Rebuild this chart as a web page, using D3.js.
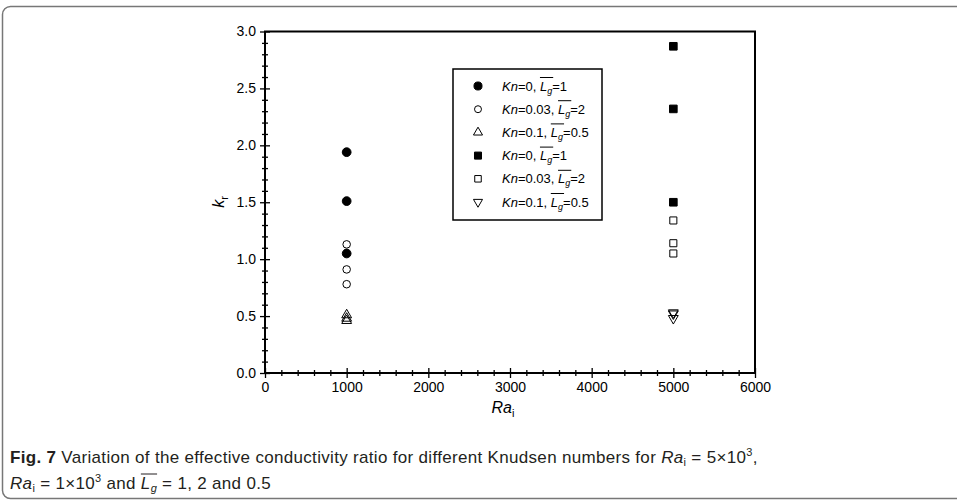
<!DOCTYPE html>
<html>
<head>
<meta charset="utf-8">
<script src="https://cdn.jsdelivr.net/npm/d3@7"></script>
<style>
  html, body { margin: 0; padding: 0; background: #fff; }
  svg { display: block; }
  .cap { font-family: "Liberation Sans Narrow", "Liberation Sans", sans-serif; font-size: 17px; fill: #231f20; }
</style>
</head>
<body>
<svg id="chart" width="957" height="501"></svg>
<script>
// data
const xTicks = [0, 1000, 2000, 3000, 4000, 5000, 6000];
const yTicks = [0.0, 0.5, 1.0, 1.5, 2.0, 2.5, 3.0];

const raLow = 1000, raHigh = 5000;
const kn0Low   = [1.94, 1.51, 1.05];
const kn003Low = [1.13, 0.91, 0.78];
const kn01Low  = [0.51, 0.48, 0.46];
const kn0High   = [2.87, 2.32, 1.50];
const kn003High = [1.34, 1.14, 1.05];
const kn01High  = [0.53, 0.52, 0.48];

const seriesNames = [
  { kn: "0", lg: "1" }, { kn: "0.03", lg: "2" }, { kn: "0.1", lg: "0.5" },
  { kn: "0", lg: "1" }, { kn: "0.03", lg: "2" }, { kn: "0.1", lg: "0.5" }
];

const series = [
  { ra: raLow,  vals: kn0Low,   sym: d3.symbolCircle,   fill: "#000", size: 60 },
  { ra: raLow,  vals: kn003Low, sym: d3.symbolCircle,   fill: "none", size: 45 },
  { ra: raLow,  vals: kn01Low,  sym: d3.symbolTriangle, fill: "none", size: 42 },
  { ra: raHigh, vals: kn0High,  sym: d3.symbolSquare,   fill: "#000", size: 58 },
  { ra: raHigh, vals: kn003High,sym: d3.symbolSquare,   fill: "none", size: 50 },
  { ra: raHigh, vals: kn01High, sym: d3.symbolTriangle, fill: "none", size: 42, flip: true }
];

const svg = d3.select("#chart");
const font = "'Liberation Sans', Arial, sans-serif";

// outer figure frame
svg.append("rect")
  .attr("x", 2.5).attr("y", 6.5).attr("width", 975).attr("height", 492)
  .attr("rx", 8).attr("fill", "none").attr("stroke", "#777").attr("stroke-width", 1.5);

const x = d3.scaleLinear().domain([0, 6000]).range([265, 755]);
const y = d3.scaleLinear().domain([0, 3]).range([373, 31.5]);

// plot frame
svg.append("rect")
  .attr("x", x(0)).attr("y", y(3))
  .attr("width", x(6000) - x(0)).attr("height", y(0) - y(3))
  .attr("fill", "none").attr("stroke", "#000").attr("stroke-width", 2);

// y axis
const yMinor = d3.range(0, 31).map(d => d / 10).filter(d => Math.round(d * 10) % 5 !== 0);
const gyMinor = svg.append("g").attr("transform", `translate(${x(0)},0)`)
  .call(d3.axisLeft(y).tickValues(yMinor).tickSize(3).tickFormat(""));
gyMinor.selectAll(".tick line").attr("x1", 3);
const gy = svg.append("g").attr("transform", `translate(${x(0)},0)`)
  .call(d3.axisLeft(y).tickValues(yTicks).tickSize(5).tickPadding(4).tickFormat(d3.format(".1f")));
gy.selectAll(".tick line").attr("x1", 5);
gy.selectAll("text").attr("font-size", 14).attr("font-family", font).attr("fill", "#000");

// x axis
const xMinor = d3.range(0, 6001, 200).filter(d => d % 1000 !== 0);
const gxMinor = svg.append("g").attr("transform", `translate(0,${y(0)})`)
  .call(d3.axisBottom(x).tickValues(xMinor).tickSize(3).tickFormat(""));
gxMinor.selectAll(".tick line").attr("y1", -3);
const gx = svg.append("g").attr("transform", `translate(0,${y(0)})`)
  .call(d3.axisBottom(x).tickValues(xTicks).tickSize(5).tickPadding(4).tickFormat(d3.format("d")));
gx.selectAll(".tick line").attr("y1", -5);
gx.selectAll("text").attr("font-size", 14).attr("font-family", font).attr("fill", "#000");

svg.selectAll(".domain").remove();
svg.selectAll(".tick line").attr("stroke", "#000").attr("stroke-width", 1.3);

// axis titles
const yl = svg.append("text").attr("font-family", font).attr("font-size", 16)
  .attr("transform", "translate(224,202) rotate(-90)").attr("text-anchor", "middle");
yl.append("tspan").attr("font-style", "italic").text("k");
yl.append("tspan").attr("font-size", 11).attr("dy", 4).text("r");

const xl = svg.append("text").attr("font-family", font).attr("font-size", 16)
  .attr("x", 503).attr("y", 413).attr("text-anchor", "middle");
xl.append("tspan").attr("font-style", "italic").text("Ra");
xl.append("tspan").attr("font-size", 11).attr("dy", 4).text("i");

// markers
series.forEach(s => {
  svg.append("g").selectAll("path").data(s.vals).join("path")
    .attr("d", d3.symbol().type(s.sym).size(s.size))
    .attr("transform", d => `translate(${x(s.ra)},${y(d)})` + (s.flip ? " rotate(180)" : ""))
    .attr("fill", s.fill).attr("stroke", "#000").attr("stroke-width", 1);
});

// legend
svg.append("rect").attr("x", 453).attr("y", 69).attr("width", 149).attr("height", 151)
  .attr("fill", "#fff").attr("stroke", "#000").attr("stroke-width", 1.5);
seriesNames.forEach((n, i) => {
  const cy = 86 + i * 23.2;
  const s = series[i];
  svg.append("path")
    .attr("d", d3.symbol().type(s.sym).size(s.size * 0.85)())
    .attr("transform", `translate(478,${cy})` + (s.flip ? " rotate(180)" : ""))
    .attr("fill", s.fill).attr("stroke", "#000").attr("stroke-width", 1);
  const t = svg.append("text").attr("font-family", font).attr("font-size", 13)
    .attr("x", 502).attr("y", cy + 4.5);
  t.append("tspan").attr("font-style", "italic").text("Kn");
  t.append("tspan").text(`=${n.kn}, `);
  t.append("tspan").attr("font-style", "italic").text("L");
  t.append("tspan").attr("font-style", "italic").attr("font-size", 9).attr("dy", 3).text("g");
  t.append("tspan").attr("dy", -3).text(`=${n.lg}`);
  // overline above L_g
  const pre = t.node().getSubStringLength(0, 2 + n.kn.length + 3);
  const lgLen = t.node().getSubStringLength(2 + n.kn.length + 3, 2);
  svg.append("line")
    .attr("x1", 502 + pre).attr("x2", 502 + pre + lgLen + 1)
    .attr("y1", cy - 8.5).attr("y2", cy - 8.5)
    .attr("stroke", "#000").attr("stroke-width", 1);
});

// caption
const c1 = svg.append("text").attr("class", "cap").attr("x", 10).attr("y", 463);
c1.append("tspan").attr("font-weight", "bold").text("Fig. 7");
c1.append("tspan").text("  Variation of the effective conductivity ratio for different Knudsen numbers for ");
c1.append("tspan").attr("font-style", "italic").text("Ra");
c1.append("tspan").attr("font-size", 11).attr("dy", 3).text("i");
c1.append("tspan").attr("dy", -3).text(" = 5×10");
c1.append("tspan").attr("font-size", 11).attr("dy", -7).text("3");
c1.append("tspan").attr("dy", 7).text(",");

const c2 = svg.append("text").attr("class", "cap").attr("x", 10).attr("y", 489);
c2.append("tspan").attr("font-style", "italic").text("Ra");
c2.append("tspan").attr("font-size", 11).attr("dy", 3).text("i");
c2.append("tspan").attr("dy", -3).text(" = 1×10");
c2.append("tspan").attr("font-size", 11).attr("dy", -7).text("3");
c2.append("tspan").attr("dy", 7).text(" and ");
c2.append("tspan").attr("font-style", "italic").text("L");
c2.append("tspan").attr("font-style", "italic").attr("font-size", 11).attr("dy", 3).text("g");
c2.append("tspan").attr("dy", -3).text(" = 1, 2 and 0.5");

// stretch caption spacing so line 1 ends where the original does
const w1 = c1.node().getComputedTextLength();
const n1 = c1.text().length;
const ls = Math.max(0, (748 - w1) / n1);
c1.style("letter-spacing", ls + "px");
c2.style("letter-spacing", ls + "px");

const c2n = c2.node();
const lStart = c2n.getStartPositionOfChar(16).x;
const lEnd = c2n.getEndPositionOfChar(17).x;
svg.append("line").attr("x1", lStart).attr("x2", lEnd)
  .attr("y1", 474).attr("y2", 474).attr("stroke", "#231f20").attr("stroke-width", 1);
</script>
</body>
</html>
